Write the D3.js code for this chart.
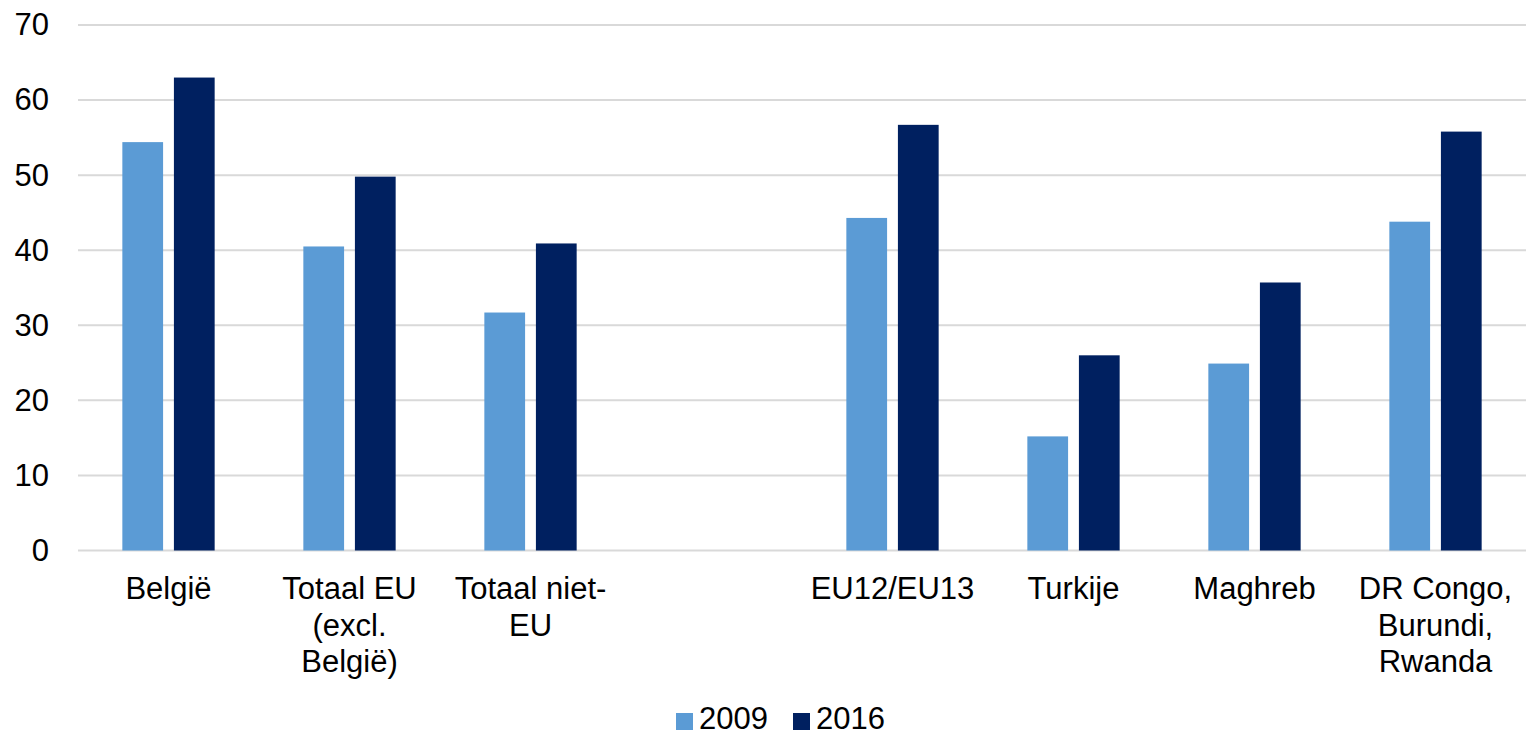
<!DOCTYPE html>
<html>
<head>
<meta charset="utf-8">
<script src="https://cdn.jsdelivr.net/npm/d3@7"></script>
<style>
  html, body { margin: 0; padding: 0; background: #ffffff; }
  svg text { font-family: "Liberation Sans", Arial, sans-serif; fill: #000; }
</style>
</head>
<body>
<svg id="chart" width="1526" height="737"></svg>
<script>
// ---- data ----
const categories = ["België", "Totaal EU\n(excl.\nBelgië)", "Totaal niet-\nEU", "", "EU12/EU13", "Turkije", "Maghreb", "DR Congo,\nBurundi,\nRwanda"];
const seriesNames = ["2009", "2016"];
const values2009 = [54.4, 40.5, 31.7, null, 44.3, 15.2, 24.9, 43.8];
const values2016 = [63.0, 49.8, 40.9, null, 56.7, 26.0, 35.7, 55.8];
const yTicks = [0, 10, 20, 30, 40, 50, 60, 70];
const colors = ["#5B9BD5", "#002060"];

(function () {
  // ---- layout ----
  const svg = d3.select("#chart");
  const plotLeft = 78, plotRight = 1526, plotTop = 25, plotBottom = 550.5;
  const fontSize = 31;

  const x = d3.scaleBand()
    .domain(categories)
    .range([plotLeft, plotRight])
    .paddingInner(0.49)
    .paddingOuter(0.245);

  const xSub = d3.scaleBand()
    .domain(seriesNames)
    .range([0, x.bandwidth()])
    .paddingInner(0.21);

  const y = d3.scaleLinear().domain([0, 70]).range([plotBottom, plotTop]);

  // gridlines
  svg.append("g")
    .selectAll("line")
    .data(yTicks)
    .join("line")
    .attr("x1", plotLeft)
    .attr("x2", plotRight)
    .attr("y1", d => y(d))
    .attr("y2", d => y(d))
    .attr("stroke", "#d9d9d9")
    .attr("stroke-width", 2);

  // y axis labels
  const yAxis = d3.axisLeft(y).tickValues(yTicks).tickSize(0).tickPadding(0);
  const yG = svg.append("g")
    .attr("transform", "translate(49,0)")
    .call(yAxis);
  yG.select(".domain").remove();
  yG.selectAll("text")
    .attr("font-size", fontSize)
    .attr("font-family", "Liberation Sans, Arial, sans-serif")
    .attr("fill", "#000");

  // bars
  const rows = categories.map((c, i) => ({ cat: c, vals: [values2009[i], values2016[i]] }));
  const groups = svg.append("g")
    .selectAll("g")
    .data(rows)
    .join("g")
    .attr("transform", d => `translate(${x(d.cat)},0)`);

  groups.selectAll("rect")
    .data(d => d.vals.map((v, j) => ({ key: seriesNames[j], v, j })).filter(e => e.v !== null))
    .join("rect")
    .attr("x", d => xSub(d.key))
    .attr("width", xSub.bandwidth())
    .attr("y", d => y(d.v))
    .attr("height", d => y(0) - y(d.v))
    .attr("fill", d => colors[d.j]);

  // x labels
  const lineH = 36.5;
  const xl = svg.append("g")
    .selectAll("text")
    .data(categories.filter(c => c !== ""))
    .join("text")
    .attr("text-anchor", "middle")
    .attr("font-size", fontSize)
    .attr("x", d => x(d) + x.bandwidth() / 2)
    .attr("y", 599);
  xl.each(function (d) {
    const t = d3.select(this);
    d.split("\n").forEach((line, i) => {
      t.append("tspan")
        .attr("x", x(d) + x.bandwidth() / 2)
        .attr("dy", i === 0 ? 0 : lineH)
        .text(line);
    });
  });

  // legend
  const legendItems = [
    { name: seriesNames[0], color: colors[0], sx: 676, tx: 699 },
    { name: seriesNames[1], color: colors[1], sx: 793, tx: 816 }
  ];
  const lg = svg.append("g");
  lg.selectAll("rect")
    .data(legendItems)
    .join("rect")
    .attr("x", d => d.sx)
    .attr("y", 713)
    .attr("width", 17)
    .attr("height", 17)
    .attr("fill", d => d.color);
  lg.selectAll("text")
    .data(legendItems)
    .join("text")
    .attr("x", d => d.tx)
    .attr("y", 729)
    .attr("font-size", fontSize)
    .text(d => d.name);
})();
</script>
</body>
</html>
